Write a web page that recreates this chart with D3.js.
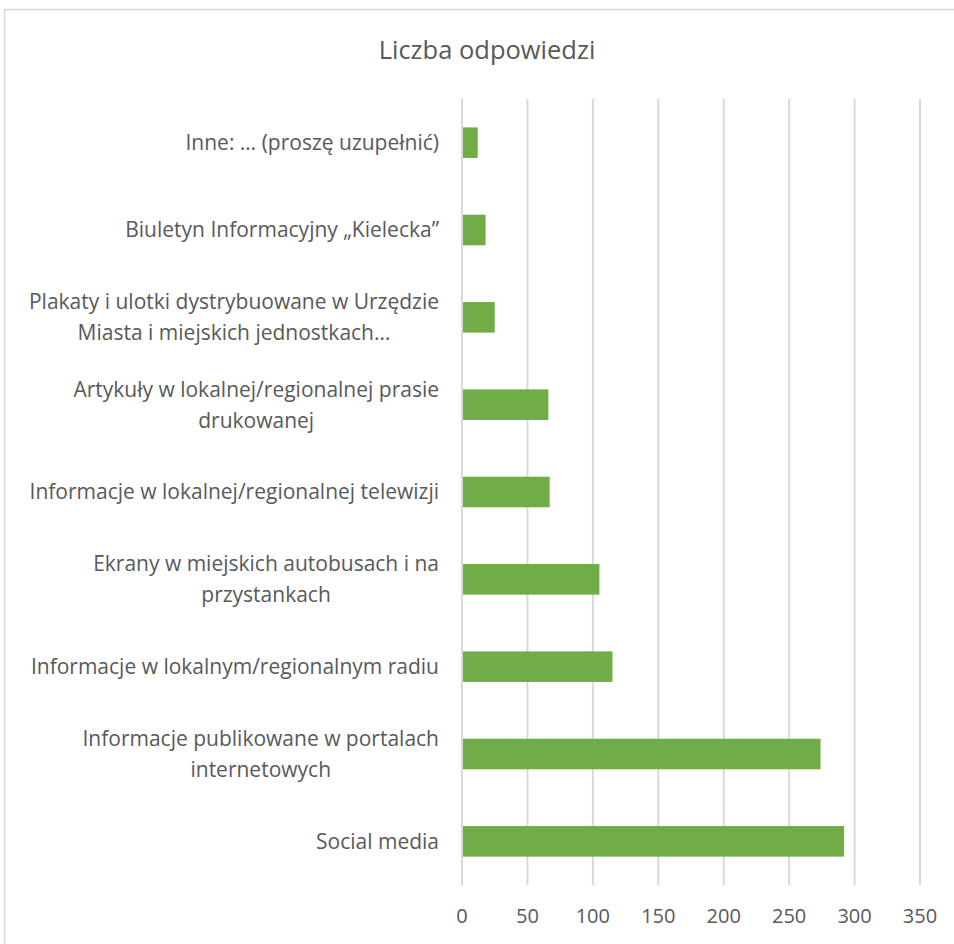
<!DOCTYPE html>
<html>
<head>
<meta charset="utf-8">
<title>Liczba odpowiedzi</title>
<style>
body { margin: 0; background: #fff; }
text { font-family: "Open Sans", sans-serif; fill: #595959; }
.grid line { stroke: #d9d9d9; stroke-width: 2px; }
</style>
</head>
<body>
<script src="https://d3js.org/d3.v7.min.js"></script>
<script>

// Data (top to bottom as drawn)
var categories = [
    "Inne: … (proszę uzupełnić)",
    "Biuletyn Informacyjny „Kielecka”",
    "Plakaty i ulotki dystrybuowane w Urzędzie|Miasta i miejskich jednostkach…",
    "Artykuły w lokalnej/regionalnej prasie|drukowanej",
    "Informacje w lokalnej/regionalnej telewizji",
    "Ekrany w miejskich autobusach i na|przystankach",
    "Informacje w lokalnym/regionalnym radiu",
    "Informacje publikowane w portalach|internetowych",
    "Social media"
];
var values = [12, 18, 25, 66, 67, 105, 115, 274, 292];
var xTicks = [0, 50, 100, 150, 200, 250, 300, 350];
var title = "Liczba odpowiedzi";

var W = 954, H = 944;
var plot = {left: 462, right: 920, top: 99, bottom: 885};

var svg = d3.select("body").append("svg")
    .attr("width", W)
    .attr("height", H);

// chart frame
svg.append("rect")
    .attr("x", 4.5).attr("y", 9.5)
    .attr("width", W + 10).attr("height", H + 10)
    .attr("fill", "none")
    .attr("stroke", "#d9d9d9")
    .attr("stroke-width", 1.5);

var x = d3.scaleLinear().domain([0, 350]).range([plot.left, plot.right]);

var y = d3.scaleBand()
    .domain(categories)
    .range([plot.top, plot.bottom])
    .paddingInner(0.65)
    .paddingOuter(0.325);

// gridlines
svg.append("g")
    .attr("class", "grid")
    .selectAll("line")
    .data(xTicks)
    .enter().append("line")
    .attr("x1", function(d) { return x(d); })
    .attr("x2", function(d) { return x(d); })
    .attr("y1", plot.top)
    .attr("y2", plot.bottom);

// bars
svg.append("g")
    .selectAll("rect")
    .data(values)
    .enter().append("rect")
    .attr("x", x(0) + 1)
    .attr("y", function(d, i) { return y(categories[i]); })
    .attr("width", function(d) { return x(d) - x(0) - 1; })
    .attr("height", y.bandwidth())
    .attr("fill", "#70ad47");

// x tick labels
svg.append("g")
    .selectAll("text")
    .data(xTicks)
    .enter().append("text")
    .attr("x", function(d) { return x(d); })
    .attr("y", 923)
    .attr("text-anchor", "middle")
    .style("font-size", "20px")
    .text(function(d) { return d; });

// category labels: right-aligned block, lines centred inside it
var labelRight = 439, lineGap = 31;
categories.forEach(function(c) {
    var lines = c.split("|");
    var g = svg.append("g");
    var cy = y(c) + y.bandwidth() / 2;
    var texts = lines.map(function(l, j) {
        return g.append("text")
            .attr("y", cy + (j - (lines.length - 1) / 2) * lineGap)
            .attr("dy", "0.35em")
            .attr("text-anchor", "middle")
            .style("font-size", "21px")
            .text(l);
    });
    var maxW = d3.max(texts, function(t) { return t.node().getComputedTextLength(); });
    texts.forEach(function(t) { t.attr("x", labelRight - maxW / 2); });
});

// title
svg.append("text")
    .attr("x", 487)
    .attr("y", 59)
    .attr("text-anchor", "middle")
    .style("font-size", "25.5px")
    .text(title);

</script>
</body>
</html>
